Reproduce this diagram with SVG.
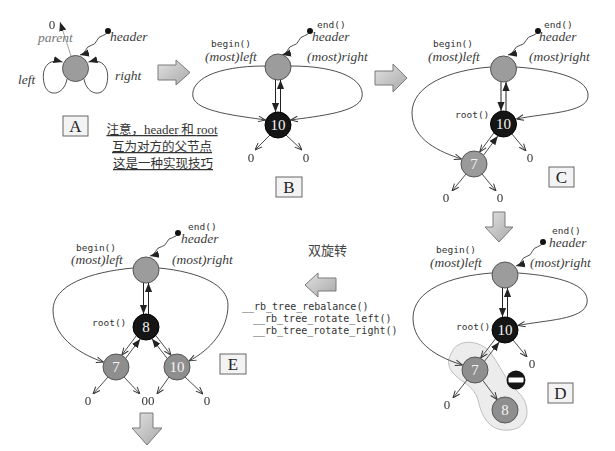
<svg xmlns="http://www.w3.org/2000/svg" width="615" height="451" viewBox="0 0 615 451">
<style>
.c{fill:none;stroke:#3a3a3a;stroke-width:0.9}
.cs{fill:none;stroke:#222;stroke-width:1}
.hd{fill:#9c9c9c;stroke:#555;stroke-width:1}
.rt{fill:#151515;stroke:#000;stroke-width:1}
.gn{fill:#8e8e8e;stroke:#555;stroke-width:1}
.nt{font-family:"Liberation Serif",serif;font-size:15px;fill:#f4f4f4;text-anchor:middle}
.mono{font-family:"DejaVu Sans Mono",monospace;font-size:9.5px;fill:#333}
.code{font-family:"DejaVu Sans Mono",monospace;font-size:10px;fill:#333}
.it{font-family:"Liberation Serif",serif;font-style:italic;font-size:13.5px;fill:#3c3c3c}
.z{font-family:"Liberation Serif",serif;font-size:13px;fill:#333;text-anchor:middle}
.bx{fill:#f3f3f3;stroke:#666;stroke-width:1}
.bt{font-family:"Liberation Serif",serif;font-size:17px;fill:#222;text-anchor:middle}
.ba{fill:url(#g);stroke:#7a7a7a;stroke-width:1}
.cn{font-family:"Noto Sans CJK SC",sans-serif;font-size:12.5px;fill:#333;text-anchor:middle;text-decoration:underline}
</style>
<defs>
<linearGradient id="g" x1="0" y1="0" x2="1" y2="1"><stop offset="0" stop-color="#e2e2e2"/><stop offset="1" stop-color="#a8a8a8"/></linearGradient>
<filter id="flat" x="0" y="0" width="1" height="1"><feOffset dx="0" dy="0"/></filter>
<marker id="op" viewBox="0 0 10 10" refX="10" refY="5" markerWidth="8" markerHeight="8" markerUnits="userSpaceOnUse" orient="auto"><path d="M1,1.5 L10,5 L1,8.5" fill="none" stroke="#333" stroke-width="1.2"/></marker>
<marker id="so" viewBox="0 0 10 10" refX="10" refY="5" markerWidth="9" markerHeight="9" markerUnits="userSpaceOnUse" orient="auto"><path d="M0,1 L10,5 L0,9 Z" fill="#222"/></marker>
</defs>
<rect width="615" height="451" fill="#fff"/>

<!-- highlight blob in D -->
<path d="M452,352 C458,338 480,340 490,352 C500,365 505,380 518,392 C532,405 530,428 510,430 C490,432 482,418 478,400 C474,385 460,382 452,372 C447,365 448,358 452,352 Z" fill="#ececec" stroke="#b0b0b0" stroke-width="0.8"/>

<g id="connectors">
<!-- A -->
<path class="c" d="M71,56 L60,22" marker-end="url(#so)" style="stroke:#999"/>
<path class="c" d="M108,31 q-1.5,3.9 -5.6,4.8 t-5.6,4.8 t-5.6,4.8 t-5.6,4.8 t-5.6,4.8" marker-end="url(#so)"/>
<path class="c" d="M67,79 C64,96 47,98 44,83 C41,68 48,58 62.5,62" marker-end="url(#so)"/>
<path class="c" d="M84,79 C87,96 104,98 107,83 C110,68 103,58 88.5,62" marker-end="url(#so)"/>
<!-- B -->
<path class="c" d="M310,31 q-1.5,3.9 -5.6,4.8 t-5.6,4.8 t-5.6,4.8 t-5.6,4.8 t-5.6,4.8" marker-end="url(#so)"/>
<path class="cs" d="M275.5,80 L275.5,112" marker-end="url(#so)"/>
<path class="cs" d="M280.5,112 L280.5,80" marker-end="url(#so)"/>
<path class="c" d="M265,66 C215,66 190,80 193,97 C196,112 240,116 265.5,120" marker-end="url(#op)"/>
<path class="c" d="M291,66 C340,66 365,80 362,97 C359,112 320,116 290.5,120" marker-end="url(#op)"/>
<path class="c" d="M270,135 L255,150" marker-end="url(#op)"/>
<path class="c" d="M286,135 L302,150" marker-end="url(#op)"/>
<!-- C -->
<path class="c" d="M538,31 q-1.6,3.9 -6,4.8 t-6,4.8 t-6,4.8 t-6,4.8 t-6,4.8" marker-end="url(#so)"/>
<path class="cs" d="M501,82 L501,111" marker-end="url(#so)"/>
<path class="cs" d="M506,111 L506,82" marker-end="url(#so)"/>
<path class="c" d="M490.5,67 C450,70 412,85 412,113 C412,140 440,152 461.5,159" marker-end="url(#op)"/>
<path class="c" d="M516,67 C560,70 590,80 588,97 C586,113 545,113 516.5,119" marker-end="url(#op)"/>
<path class="c" d="M493.8,133 L479.7,152" marker-end="url(#op)"/>
<path class="c" d="M483.7,155 L497.8,136" marker-end="url(#so)"/>
<path class="c" d="M512,134 L526,151" marker-end="url(#op)"/>
<path class="c" d="M466,174 L452,191" marker-end="url(#op)"/>
<path class="c" d="M482,174 L496,191" marker-end="url(#op)"/>
<!-- D -->
<path class="c" d="M543,242 q-1.4,3.8 -5.4,4.8 t-5.4,4.8 t-5.4,4.8 t-5.4,4.8 t-5.4,4.8" marker-end="url(#so)"/>
<path class="cs" d="M502.5,288 L502.5,317" marker-end="url(#so)"/>
<path class="cs" d="M507.5,317 L507.5,288" marker-end="url(#so)"/>
<path class="c" d="M492,273 C450,276 413,290 413,318 C413,345 440,358 462.5,365" marker-end="url(#op)"/>
<path class="c" d="M518,273 C560,276 590,285 587,303 C584,320 545,320 518,325.5" marker-end="url(#op)"/>
<path class="c" d="M495.3,339 L480.7,358" marker-end="url(#op)"/>
<path class="c" d="M484.7,361 L499.3,342" marker-end="url(#so)"/>
<path class="c" d="M513,340 L527,357" marker-end="url(#op)"/>
<path class="c" d="M467,380 L453,398" marker-end="url(#op)"/>
<path class="c" d="M482.8,380.4 L497.2,399.6" marker-end="url(#op)"/>
<!-- E -->
<path class="c" d="M178,233 q-1.5,3.8 -5.6,4.6 t-5.6,4.6 t-5.6,4.6 t-5.6,4.6 t-5.6,4.6" marker-end="url(#so)"/>
<path class="cs" d="M143.5,283 L143.5,314" marker-end="url(#so)"/>
<path class="cs" d="M148.5,314 L148.5,283" marker-end="url(#so)"/>
<path class="c" d="M133,268 C90,272 53,285 53,310 C53,340 85,356 103.5,362" marker-end="url(#op)"/>
<path class="c" d="M159,268 C200,272 228,285 228,305 C228,330 210,350 189,361" marker-end="url(#op)"/>
<path class="c" d="M136.2,335.9 L121.8,355.1" marker-end="url(#op)"/>
<path class="c" d="M125.8,358.1 L140.2,338.9" marker-end="url(#so)"/>
<path class="c" d="M156,335.8 L171,355.2" marker-end="url(#op)"/>
<path class="c" d="M167,358.2 L152,338.8" marker-end="url(#so)"/>
<path class="c" d="M108,377 L93,394" marker-end="url(#op)"/>
<path class="c" d="M124,377 L140,394" marker-end="url(#op)"/>
<path class="c" d="M169,377 L157,394" marker-end="url(#op)"/>
<path class="c" d="M185,377 L203,394" marker-end="url(#op)"/>
</g>

<!-- header dots -->
<g fill="#111">
<circle cx="108" cy="31" r="3"/><circle cx="310" cy="31" r="3"/><circle cx="538" cy="31" r="3"/><circle cx="543" cy="242" r="3"/><circle cx="178" cy="233" r="3"/>
</g>

<!-- Panel A -->
<g id="A-header"><circle class="hd" cx="75.5" cy="68.5" r="13"/></g>
<text class="it" x="38" y="42" style="fill:#777">parent</text>
<text class="it" x="110" y="41">header</text>
<text class="it" x="18" y="84">left</text>
<text class="it" x="115" y="80">right</text>
<g id="box-A"><rect class="bx" x="63" y="116" width="25" height="20"/><text class="bt" x="75.5" y="132">A</text></g>
<text class="cn" x="162" y="134">注意，<tspan font-family="Liberation Serif, serif" font-size="13">header</tspan> 和 <tspan font-family="Liberation Serif, serif" font-size="13">root</tspan></text>
<text class="cn" x="162" y="151">互为对方的父节点</text>
<text class="cn" x="163" y="168">这是一种实现技巧</text>

<!-- Panel B -->
<g id="B-header"><circle class="hd" cx="278" cy="67" r="13"/></g>
<g id="B-root"><circle class="rt" cx="278" cy="125" r="13"/><text class="nt" x="278" y="130">10</text></g>
<text class="mono" x="317" y="28">end()</text>
<text class="it" x="312" y="41">header</text>
<text class="mono" x="211" y="47">begin()</text>
<text class="it" x="205" y="61">(most)left</text>
<text class="it" x="307" y="61">(most)right</text>
<g id="box-B"><rect class="bx" x="276" y="177" width="26" height="20"/><text class="bt" x="289" y="193">B</text></g>

<!-- Panel C -->
<g id="C-header"><circle class="hd" cx="503.5" cy="69" r="13"/></g>
<g id="C-root"><circle class="rt" cx="503.5" cy="124" r="13"/><text class="nt" x="503.5" y="129">10</text></g>
<g id="C-n7"><circle class="gn" cx="474" cy="164" r="13" style="fill:#9a9a9a"/><text class="nt" x="474" y="169">7</text></g>
<text class="mono" x="544" y="28">end()</text>
<text class="it" x="539" y="41">header</text>
<text class="mono" x="433" y="47">begin()</text>
<text class="it" x="428" y="61">(most)left</text>
<text class="it" x="529" y="61">(most)right</text>
<text class="mono" x="455" y="118">root()</text>
<g id="box-C"><rect class="bx" x="549" y="167" width="25" height="20"/><text class="bt" x="561.5" y="183">C</text></g>

<!-- Panel D -->
<g id="D-header"><circle class="hd" cx="505" cy="275" r="13"/></g>
<g id="D-root"><circle class="rt" cx="505" cy="330" r="13"/><text class="nt" x="505" y="335">10</text></g>
<g id="D-n7"><circle class="gn" cx="475" cy="370" r="13"/><text class="nt" x="475" y="375">7</text></g>
<g id="D-n8"><circle class="gn" cx="505" cy="410" r="13"/><text class="nt" x="505" y="415">8</text></g>
<g id="D-minus"><circle cx="516" cy="380" r="9.5" fill="#151515"/><rect x="508.5" y="377.5" width="15" height="5" rx="1" fill="#fff"/></g>
<text class="mono" x="552" y="234">end()</text>
<text class="it" x="549" y="247">header</text>
<text class="mono" x="436" y="253">begin()</text>
<text class="it" x="430" y="267">(most)left</text>
<text class="it" x="530" y="267">(most)right</text>
<text class="mono" x="456" y="330">root()</text>
<g id="box-D"><rect class="bx" x="548" y="383" width="25" height="20"/><text class="bt" x="560.5" y="399">D</text></g>

<!-- Panel E -->
<g id="E-header"><circle class="hd" cx="146" cy="270" r="13"/></g>
<g id="E-root"><circle class="rt" cx="146" cy="327" r="13"/><text class="nt" x="146" y="332">8</text></g>
<g id="E-n7"><circle class="gn" cx="116" cy="367" r="13"/><text class="nt" x="116" y="372">7</text></g>
<g id="E-n10"><circle class="gn" cx="177" cy="367" r="13"/><text class="nt" x="177" y="372">10</text></g>
<text class="mono" x="188" y="230">end()</text>
<text class="it" x="181" y="243">header</text>
<text class="mono" x="76" y="251">begin()</text>
<text class="it" x="71" y="264">(most)left</text>
<text class="it" x="172" y="264">(most)right</text>
<text class="mono" x="92" y="326">root()</text>
<g id="box-E"><rect class="bx" x="220" y="354" width="26" height="20"/><text class="bt" x="233" y="370">E</text></g>

<!-- null leaves -->
<g id="nulls" filter="url(#flat)">
<text class="z" x="52" y="29">0</text>
<text class="z" x="251" y="162">0</text>
<text class="z" x="306" y="162">0</text>
<text class="z" x="530" y="162">0</text>
<text class="z" x="446" y="202">0</text>
<text class="z" x="500" y="202">0</text>
<text class="z" x="532" y="368">0</text>
<text class="z" x="447" y="409">0</text>
<text class="z" x="88" y="405">0</text>
<text class="z" x="148" y="405">00</text>
<text class="z" x="207" y="405">0</text>
</g>

<!-- middle -->
<text x="308" y="255" font-family="Noto Sans CJK SC, sans-serif" font-size="13" fill="#444">双旋转</text>
<text class="code" x="242" y="310">__rb_tree_rebalance()</text>
<text class="code" x="253" y="322">__rb_tree_rotate_left()</text>
<text class="code" x="253" y="334">__rb_tree_rotate_right()</text>

<!-- block arrows -->
<g id="flow-arrows">
<path class="ba" d="M158,65 L176,65 L176,60 L190,72.5 L176,85 L176,80 L158,80 Z"/>
<path class="ba" d="M375,71 L393,71 L393,64 L407,78 L393,92 L393,85 L375,85 Z"/>
<path class="ba" d="M493,212 L505,212 L505,227 L513,227 L499,242 L485,227 L493,227 Z"/>
<path class="ba" d="M336,278 L336,291 L318,291 L318,297 L305,285 L318,273 L318,278 Z"/>
<path class="ba" d="M140,413 L153,413 L153,428 L162,428 L147,445 L132,428 L140,428 Z"/>
</g>
</svg>
